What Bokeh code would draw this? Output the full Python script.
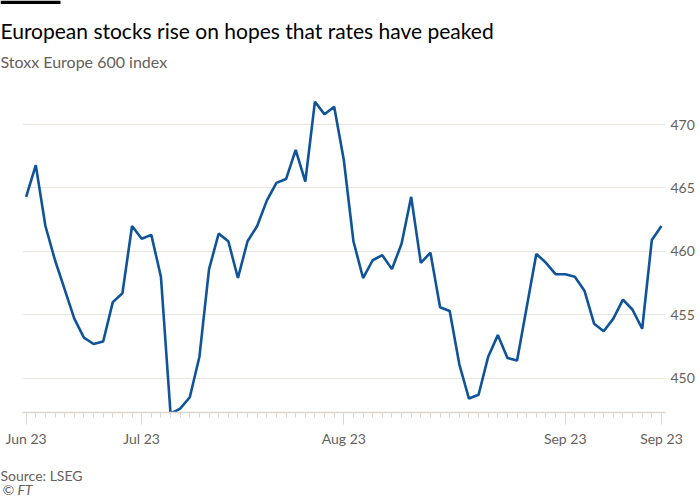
from bokeh.plotting import figure
from bokeh.layouts import column
from bokeh.models import FixedTicker, Range1d, ColumnDataSource
from bokeh.core.properties import value
from bokeh.embed import file_html
from bokeh.resources import INLINE
import pandas as pd

# Trading days Jun 15 2023 - Sep 15 2023
dates = pd.bdate_range("2023-06-15", "2023-09-15")
values = [
    464.3, 466.8, 462.0, 459.3, 457.0, 454.7, 453.2, 452.7, 452.9, 456.0,
    456.7, 462.0, 461.0, 461.3, 458.0, 447.2, 447.6, 448.5, 451.7, 458.6,
    461.4, 460.8, 457.9, 460.8, 462.0, 464.0, 465.4, 465.7, 468.0, 465.5,
    471.8, 470.8, 471.4, 467.2, 460.8, 457.9, 459.3, 459.7, 458.6, 460.6,
    464.3, 459.1, 459.9, 455.6, 455.3, 451.1, 448.4, 448.7, 451.7, 453.4,
    451.6, 451.4, 455.6, 459.8, 459.1, 458.2, 458.2, 458.0, 456.9, 454.3,
    453.7, 454.7, 456.2, 455.4, 453.9, 460.9, 462.0,
]
x_tick_idx = [0, 12, 33, 56, 66]
x_tick_labels = ["Jun 23", "Jul 23", "Aug 23", "Sep 23", "Sep 23"]
y_ticks = [450, 455, 460, 465, 470]

title = "European stocks rise on hopes that rates have peaked"
subtitle = "Stoxx Europe 600 index"
source_note = "Source: LSEG"
copyright_note = "© FT"

FONT = "Lato"
GREY = "#66605c"
GRID = "#ebe5df"
AXIS = "#ddd5ce"
BLUE = "#0f5499"
W = 700


def blank(height, y0, y1):
    f = figure(width=W, height=height, output_backend="svg", toolbar_location=None,
               x_range=Range1d(0, W), y_range=Range1d(y1, y0),
               x_axis_type=None, y_axis_type=None, min_border=0,
               frame_align=False)
    f.outline_line_color = None
    f.background_fill_color = "white"
    f.border_fill_color = "white"
    return f


# ---- header ----
head = blank(90, 0, 90)
head.quad(left=[0], right=[60], top=[0], bottom=[3.5], fill_color="black", line_color=None)
head.text(x=[0], y=[30], text=[title], text_font=value(FONT), text_font_size="21px",
          text_color="#000000", text_baseline="alphabetic")
head.text(x=[0], y=[61], text=[subtitle], text_font=value(FONT), text_font_size="16px",
          text_color=GREY, text_baseline="alphabetic")

# ---- main chart ----
src = ColumnDataSource(dict(x=list(range(len(values))), y=values, date=list(dates)))
p = figure(
    width=W, height=370,
    output_backend="svg", toolbar_location=None,
    x_range=Range1d(-0.38, 66.42), y_range=Range1d(447.3, 472.68),
    y_axis_location="right",
    min_border_left=22, min_border_right=35, min_border_top=0, min_border_bottom=48,
    frame_align=False,
)
p.outline_line_color = None
p.background_fill_color = "white"
p.border_fill_color = "white"

p.line("x", "y", source=src, line_color=BLUE, line_width=2.6)

xa = p.xaxis[0]
xa.ticker = FixedTicker(ticks=x_tick_idx, minor_ticks=list(range(len(values))))
xa.major_label_overrides = {i: l for i, l in zip(x_tick_idx, x_tick_labels)}
xa.axis_line_color = AXIS
xa.axis_line_width = 1.5
xa.major_tick_line_color = AXIS
xa.minor_tick_line_color = AXIS
xa.major_tick_in = 0
xa.major_tick_out = 12
xa.minor_tick_in = 0
xa.minor_tick_out = 5
xa.major_label_standoff = 5
xa.major_label_text_font = FONT
xa.major_label_text_font_size = "14px"
xa.major_label_text_color = GREY

ya = p.yaxis[0]
ya.ticker = FixedTicker(ticks=y_ticks)
ya.axis_line_color = None
ya.major_tick_line_color = None
ya.minor_tick_line_color = None
ya.major_tick_out = 0
ya.major_tick_in = 0
ya.minor_tick_out = 0
ya.minor_tick_in = 0
ya.major_label_standoff = 5
ya.major_label_text_font = FONT
ya.major_label_text_font_size = "14px"
ya.major_label_text_color = GREY

p.xgrid.grid_line_color = None
p.ygrid.grid_line_color = GRID
p.ygrid.grid_line_width = 1

# ---- footer ----
foot = blank(40, 460, 500)
foot.text(x=[0], y=[475], text=[source_note], text_font=value(FONT), text_font_size="14px",
          text_color=GREY, text_baseline="alphabetic")
foot.text(x=[2], y=[489], text=[copyright_note], text_font=value(FONT), text_font_size="14px",
          text_color=GREY, text_font_style="italic", text_baseline="alphabetic")

layout = column(head, p, foot, spacing=0)
open("out.html", "w").write(file_html(layout, INLINE))
